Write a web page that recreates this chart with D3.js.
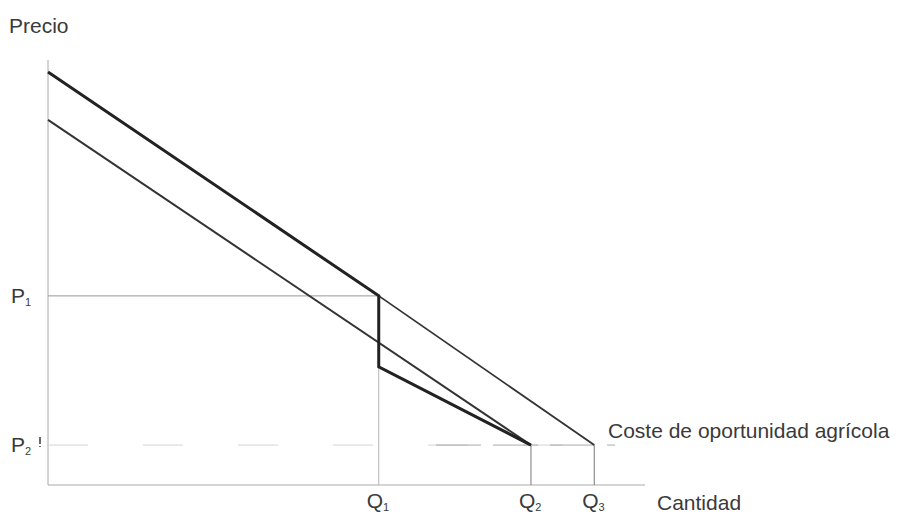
<!DOCTYPE html>
<html><head><meta charset="utf-8">
<script src="https://cdn.jsdelivr.net/npm/d3@7"></script>
<style>body{margin:0;background:#fff}svg{display:block}text{font-family:"Liberation Sans",Arial,sans-serif;fill:#3a3a3a}</style>
</head><body><svg id="c" width="904" height="516"></svg>
<script>
// Data (quantity, price) in chart units
const qLabels = ["Q1", "Q2", "Q3"];
const qValues = [5.54, 8.09, 9.15];
const pLabels = ["P1", "P2"];
const pValues = [4.45, 0.94];
const thickCurve = [[0, 9.72], [5.54, 4.45], [5.54, 2.78], [8.09, 0.94]];
const lowerCurve = [[0, 8.59], [8.09, 0.94]];
const upperExtension = [[5.54, 4.45], [9.15, 0.94]];
const costLine = [[0, 0.94], [9.5, 0.94]];

const svg = d3.select("#c");
const x = d3.scaleLinear().domain([0, 10]).range([48, 645]);
const y = d3.scaleLinear().domain([0, 10]).range([485, 60]);
const line = d3.line().x(d => x(d[0])).y(d => y(d[1]));

// axes
svg.append("line").attr("x1", x(0)).attr("x2", x(0)).attr("y1", y(10)).attr("y2", y(0)).attr("stroke", "#aaa").attr("stroke-width", 1);
svg.append("line").attr("x1", x(0)).attr("x2", x(10)).attr("y1", y(0)).attr("y2", y(0)).attr("stroke", "#aaa").attr("stroke-width", 1);

// P1 guide
svg.append("line").attr("x1", x(0)).attr("x2", x(qValues[0])).attr("y1", y(pValues[0])).attr("y2", y(pValues[0])).attr("stroke", "#999").attr("stroke-width", 1);
// Q1 guide
svg.append("line").attr("x1", x(qValues[0])).attr("x2", x(qValues[0])).attr("y1", y(pValues[0])).attr("y2", y(0)).attr("stroke", "#b5b5b5").attr("stroke-width", 1);
// Q2, Q3 guides
[qValues[1], qValues[2]].forEach(q => {
  svg.append("line").attr("x1", x(q)).attr("x2", x(q)).attr("y1", y(pValues[1])).attr("y2", y(0)).attr("stroke", "#777").attr("stroke-width", 1);
});
// cost dashed line (faint)
svg.append("path").attr("d", line(costLine)).attr("fill", "none").attr("stroke", "#d4d4d4").attr("stroke-width", 1).attr("stroke-dasharray", "40,55");
svg.append("path").attr("d", line([[6.5, 0.94], [9.5, 0.94]])).attr("fill", "none").attr("stroke", "#aaa").attr("stroke-width", 1).attr("stroke-dasharray", "45,12");

// curves
svg.append("path").attr("d", line(lowerCurve)).attr("fill", "none").attr("stroke", "#333").attr("stroke-width", 2);
svg.append("path").attr("d", line(upperExtension)).attr("fill", "none").attr("stroke", "#333").attr("stroke-width", 1.8);
svg.append("path").attr("d", line(thickCurve)).attr("fill", "none").attr("stroke", "#222").attr("stroke-width", 3).attr("stroke-linejoin", "miter");

// labels
const FS = 21;
svg.append("text").attr("x", 9).attr("y", 33).attr("font-size", FS).text("Precio");
function sub(t, lx, ly) {
  const el = svg.append("text").attr("x", lx).attr("y", ly).attr("font-size", FS);
  el.append("tspan").text(t[0]);
  el.append("tspan").attr("font-size", 11).attr("dy", 3).text(t.slice(1));
  return el;
}
pLabels.forEach((p, i) => sub(p, 11, y(pValues[i]) + 7));
// small mark after P2
svg.append("line").attr("x1", 40).attr("x2", 40).attr("y1", y(pValues[1]) - 8).attr("y2", y(pValues[1]) + 2).attr("stroke", "#444").attr("stroke-width", 1.6).attr("stroke-dasharray", "7,2");
qLabels.forEach((q, i) => sub(q, x(qValues[i]) - 12, 508));
svg.append("text").attr("x", 657).attr("y", 510).attr("font-size", FS).text("Cantidad");
svg.append("text").attr("x", 608).attr("y", 438).attr("font-size", FS).text("Coste de oportunidad agrícola");
</script></body></html>
